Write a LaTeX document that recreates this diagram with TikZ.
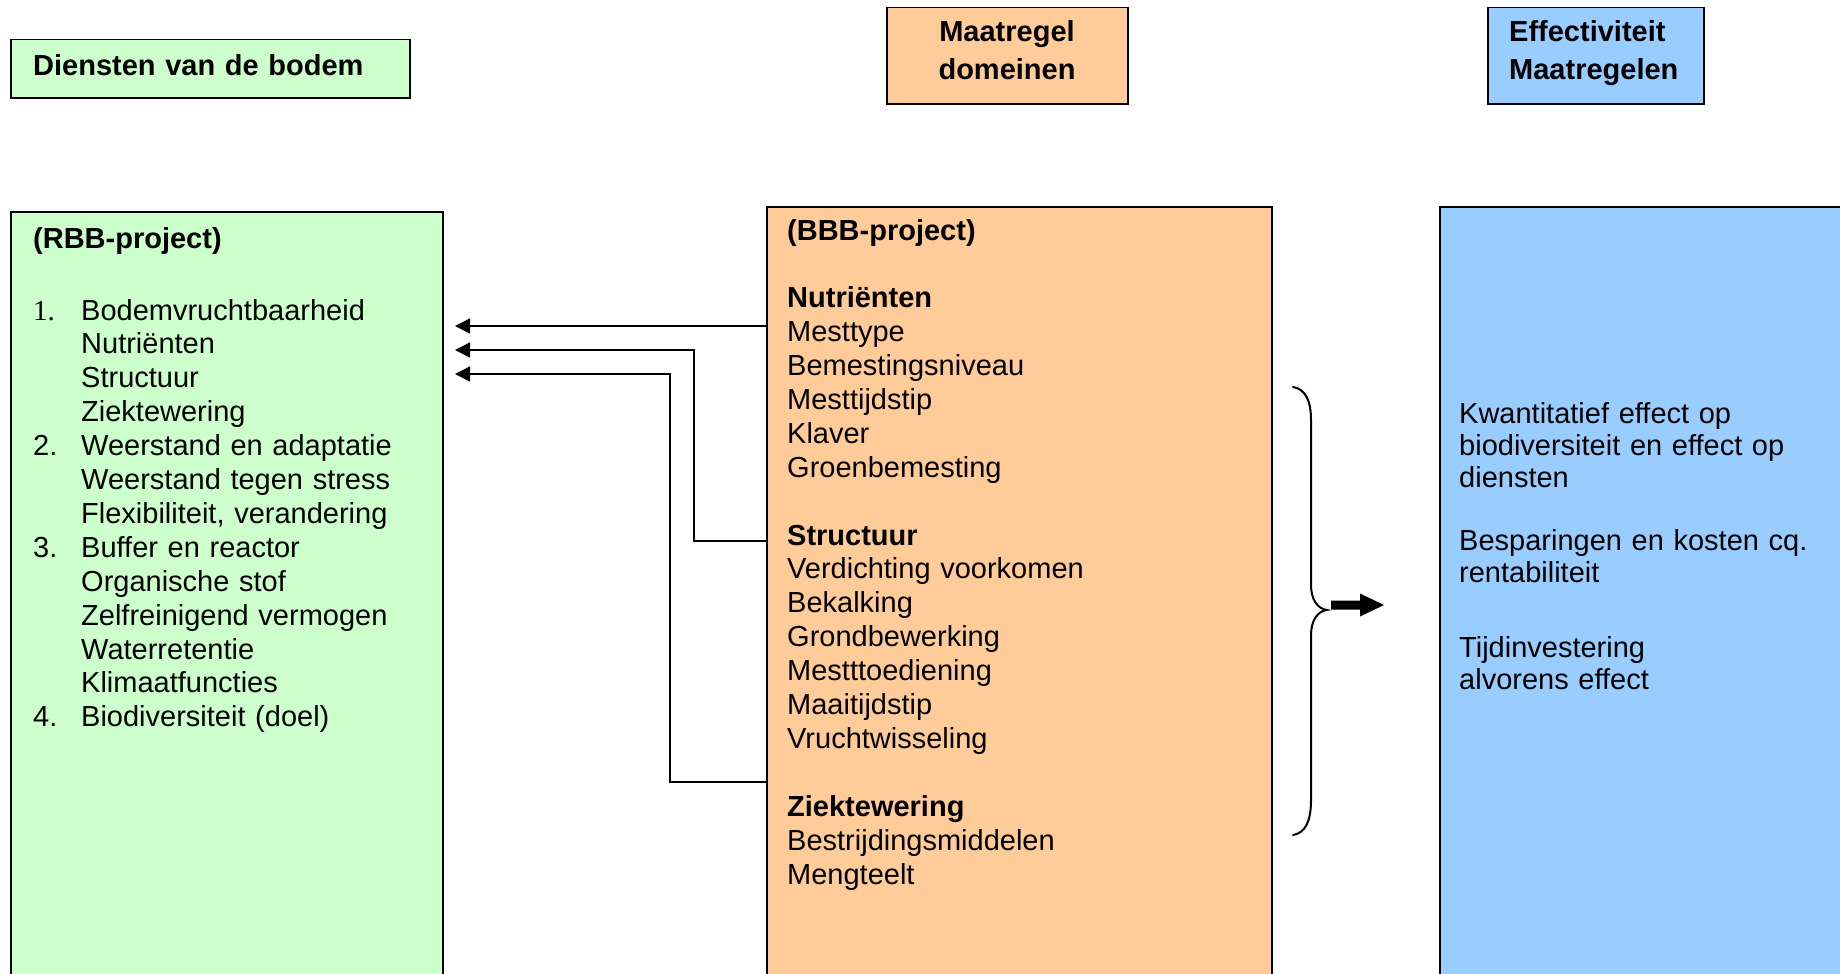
\documentclass[tikz,border=0pt]{standalone}
\usepackage{fontspec}
\setmainfont{Liberation Sans}
\newfontfamily\serifnum{Liberation Serif}
\usetikzlibrary{arrows.meta}
\definecolor{grn}{HTML}{CCFFCC}
\definecolor{org}{HTML}{FFCC99}
\definecolor{blu}{HTML}{99CCFF}
\begin{document}
\begin{tikzpicture}[x=1pt,y=-1pt,
  box/.style={draw=black,line width=1.5pt,inner sep=0pt,anchor=north west},
  txt/.style={inner sep=0pt,anchor=base west,text width=#1,align=left,font=\fontsize{29}{33.9}\selectfont},
  txt/.default=420pt,
  head/.style={inner sep=0pt,text width=#1,font=\bfseries\fontsize{29}{37.7}\selectfont},
  head/.default=240pt,
  conn/.style={line width=1.5pt,-{Triangle[length=15pt,width=15pt]}},
  bracestyle/.style={line width=2pt,line cap=round}
]
\useasboundingbox (0,0) rectangle (1840,974);
\clip (0,0) rectangle (1840,974);

% top label boxes
\node[box,fill=grn,minimum width=399pt,minimum height=58pt] (dienstenbox) at (10,39) {};
\node[txt] (dienstentxt) at (33,76) {\bfseries Diensten van de bodem};

\node[box,fill=org,minimum width=241pt,minimum height=96pt] (maatbox) at (886,7) {};
\node[head,anchor=base,align=center] (maattxt) at (1007,42) {Maatregel\\domeinen};

\node[box,fill=blu,minimum width=216pt,minimum height=96pt] (effbox) at (1487,7) {};
\node[head=200pt,anchor=base west,align=left] (efftxt) at (1509,42) {Effectiviteit\\Maatregelen};

% big boxes
\node[box,fill=grn,minimum width=432pt,minimum height=820pt] (rbb) at (10,211) {};
\node[box,fill=org,minimum width=505pt,minimum height=820pt] (bbb) at (766,206) {};
\node[box,fill=blu,minimum width=500pt,minimum height=820pt] (eff) at (1439,206) {};

% green text
\node[txt] (rbbtitle) at (33,248) {\bfseries (RBB-project)};
\node[txt] (rbblist) at (33,320) {%
\makebox[48pt][l]{\serifnum 1.}Bodemvruchtbaarheid\\
\hspace*{48pt}Nutriënten\\
\hspace*{48pt}Structuur\\
\hspace*{48pt}Ziektewering\\
\makebox[48pt][l]{2.}Weerstand en adaptatie\\
\hspace*{48pt}Weerstand tegen stress\\
\hspace*{48pt}Flexibiliteit, verandering\\
\makebox[48pt][l]{3.}Buffer en reactor\\
\hspace*{48pt}Organische stof\\
\hspace*{48pt}Zelfreinigend vermogen\\
\hspace*{48pt}Waterretentie\\
\hspace*{48pt}Klimaatfuncties\\
\makebox[48pt][l]{4.}Biodiversiteit (doel)};

% orange text
\node[txt=470pt] (bbbtext) at (787,240) {%
\textbf{(BBB-project)}\\[33.9pt]
\textbf{Nutriënten}\\
Mesttype\\
Bemestingsniveau\\
Mesttijdstip\\
Klaver\\
Groenbemesting\\[33.9pt]
\textbf{Structuur}\\
Verdichting voorkomen\\
Bekalking\\
Grondbewerking\\
Mestttoediening\\
Maaitijdstip\\
Vruchtwisseling\\[33.9pt]
\textbf{Ziektewering}\\
Bestrijdingsmiddelen\\
Mengteelt};

% blue text
\node[txt=400pt,font=\fontsize{29}{32}\selectfont] (efftext1) at (1459,423) {Kwantitatief effect op\\biodiversiteit en effect op\\diensten};
\node[txt=400pt,font=\fontsize{29}{32.5}\selectfont] (efftext2) at (1459,550) {Besparingen en kosten cq.\\rentabiliteit};
\node[txt=400pt,font=\fontsize{29}{32.5}\selectfont] (efftext3) at (1459,657) {Tijdinvestering\\alvorens effect};

% connectors
\coordinate (t1) at (455,326);
\coordinate (t2) at (455,350);
\coordinate (t3) at (455,374);
\coordinate (k2) at (694,541);
\coordinate (k3) at (670,782);
\draw[conn] (bbb.west |- t1) -- (t1);
\draw[conn] (bbb.west |- k2) -- (k2) |- (t2);
\draw[conn] (bbb.west |- k3) -- (k3) |- (t3);

% brace
\coordinate (bracetip) at (1327,610);
\draw[bracestyle] (1293,387) .. controls (1305,389) and (1311,400) .. (1311,420)
  -- (1311,585) .. controls (1311,600) and (1318,609) .. (bracetip)
  .. controls (1318,611) and (1311,620) .. (1311,635)
  -- (1311,800) .. controls (1311,822) and (1305,833) .. (1293,835);

% block arrow
\coordinate (barrowS) at (1331,605);
\coordinate (barrowE) at (1384,605);
\fill (barrowS) ++(0,-4.5) -- ++(29,0) -- ++(0,-7) -- (barrowE) -- ++(-24,11.5) -- ++(0,-7) -- ++(-29,0) -- cycle;
\end{tikzpicture}
\end{document}
